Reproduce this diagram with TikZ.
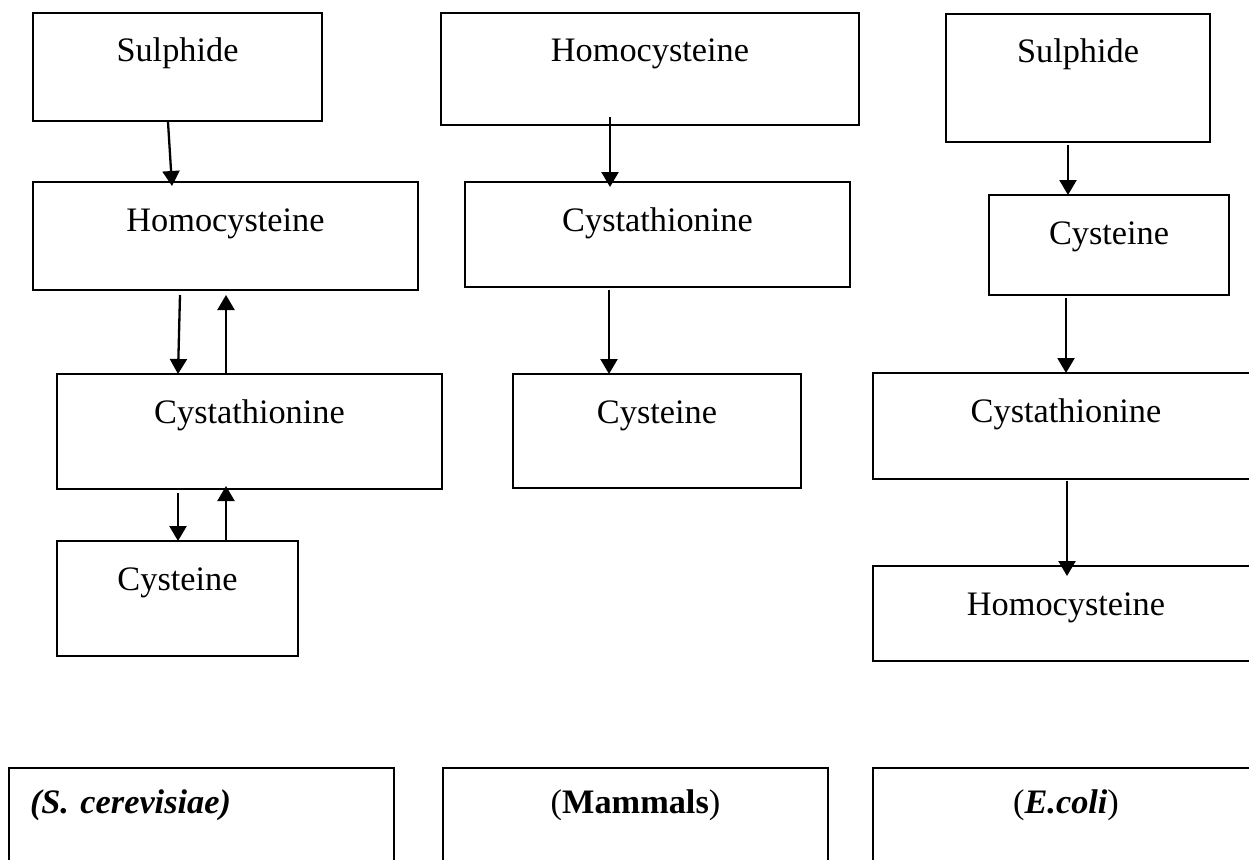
\documentclass[tikz,border=0pt]{standalone}
\usepackage{fontspec}
\setmainfont{Liberation Serif}
\usetikzlibrary{arrows.meta}

\begin{document}
\begin{tikzpicture}[x=1pt,y=-1pt,
        box/.style={draw,line width=2.2pt,outer sep=0pt,inner xsep=0pt,inner ysep=0pt,
            anchor=north west,text height=49pt,font=\fontsize{34.3}{40}\selectfont},
        arr/.style={line width=2.3pt,-{Triangle[width=17pt,length=15pt]}}]
                \useasboundingbox (0,0) rectangle (1249,859);
                \clip (0,0) rectangle (1249,859);
                \node[box,minimum width=289pt,text depth=59pt] (sulL) at (33,13) {Sulphide};
                \node[box,minimum width=385pt,text depth=59pt] (homL) at (33,182) {Homocysteine};
                \node[box,minimum width=385pt,text depth=66pt] (cytL) at (57,374) {Cystathionine};
                \node[box,minimum width=241pt,text depth=66pt] (cysL) at (57,541) {Cysteine};
                \node[box,minimum width=418pt,text depth=63pt] (homM) at (441,13) {Homocysteine};
                \node[box,minimum width=385pt,text depth=56pt] (cytM) at (465,182) {Cystathionine};
                \node[box,minimum width=288pt,text depth=65pt] (cysM) at (513,374) {Cysteine};
                \node[box,minimum width=264pt,text depth=79pt] (sulR) at (946,14) {Sulphide};
                \node[box,minimum width=240pt,text depth=51pt] (cysR) at (989,195) {Cysteine};
                \node[box,minimum width=386pt,text depth=57pt] (cytR) at (873,373) {Cystathionine};
                \node[box,minimum width=386pt,text depth=46pt] (homR) at (873,566) {Homocysteine};
                \node[box,minimum width=385pt,text height=45pt,text depth=75pt,text width=343pt,
                    inner xsep=21pt,align=left] (yeast) at (9,768) {\bfseries\itshape (S.\ cerevisiae)};
                \node[box,minimum width=385pt,text height=45pt,text depth=75pt] (mammal) at (443,768) {(\textbf{Mammals})};
                \node[box,minimum width=386pt,text height=45pt,text depth=75pt] (ecoli) at (873,768) {(\textbf{\textit{E.coli}})};
                \draw[arr] ([xshift=-9.5,yshift=-1]sulL.south) -- ([xshift=-53.5,yshift=-4]homL.north);
                \draw[arr] ([xshift=-45.5,yshift=-5]homL.south) -- ([xshift=-71.5]cytL.north);
                \draw[arr] ([xshift=-23.5]cytL.north) -- ([xshift=0.5,yshift=-5]homL.south);
                \draw[arr] ([xshift=-71.5,yshift=-4]cytL.south) -- ([xshift=0.5]cysL.north);
                \draw[arr] ([xshift=48.5]cysL.north) -- ([xshift=-23.5,yshift=3]cytL.south);
                \draw[arr] ([xshift=-40,yshift=8]homM.south) -- ([xshift=-47.5,yshift=-5]cytM.north);
                \draw[arr] ([xshift=-48.5,yshift=-3]cytM.south) -- ([xshift=-48]cysM.north);
                \draw[arr] ([xshift=-10,yshift=-3]sulR.south) -- ([xshift=-41]cysR.north);
                \draw[arr] ([xshift=-43,yshift=-3]cysR.south) -- (cytR.north);
                \draw[arr] ([xshift=1,yshift=-2]cytR.south) -- ([xshift=1,yshift=-10]homR.north);
\end{tikzpicture}
\end{document}
